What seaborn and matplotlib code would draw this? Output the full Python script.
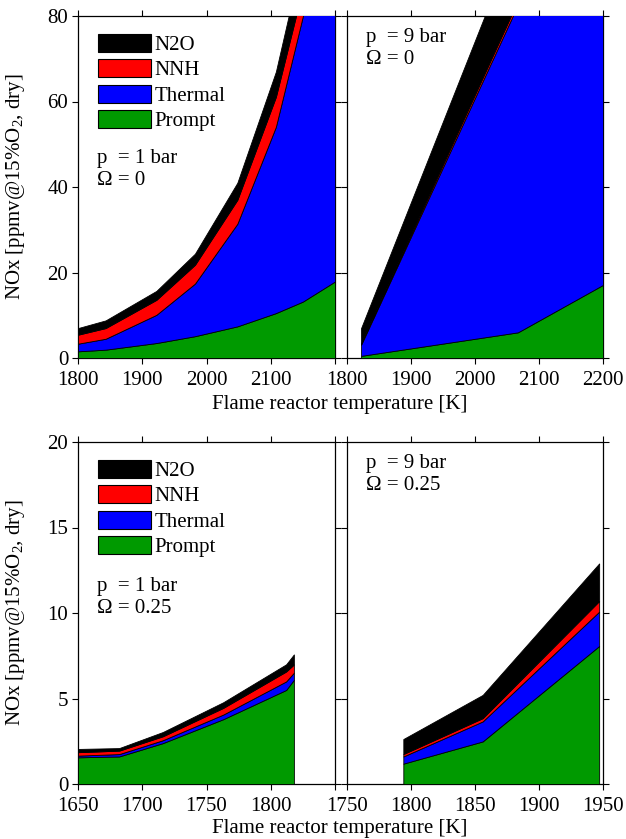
import matplotlib
matplotlib.use("Agg")
import matplotlib.pyplot as plt
from matplotlib.patches import Patch
import seaborn as sns

# ---- data: NOx formation route contributions [ppmv @ 15% O2, dry] ----
mechanisms = ["Prompt", "Thermal", "NNH", "N2O"]
mech_colors = ["#009a00", "#0000ff", "#ff0000", "#000000"]

# p = 1 bar, Omega = 0
t_1bar_0 = [1800, 1843, 1922, 1982, 2048, 2108, 2150, 2200]
prompt_1bar_0 = [1.56, 1.95, 3.5, 5.1, 7.4, 10.5, 13.2, 17.9]
thermal_1bar_0 = [1.79, 2.55, 6.6, 12.3, 24.0, 43.6, 66.8, 110.0]
nnh_1bar_0 = [2.1, 2.5, 3.5, 4.4, 5.6, 7.0, 6.5, 8.0]
n2o_1bar_0 = [1.55, 1.8, 2.1, 2.6, 4.0, 5.9, 8.0, 10.0]

# p = 9 bar, Omega = 0
t_9bar_0 = [1822, 2067, 2200]
prompt_9bar_0 = [0.5, 6.0, 17.1]
thermal_9bar_0 = [2.6, 76.6, 120.0]
nnh_9bar_0 = [0.3, 1.0, 1.5]
n2o_9bar_0 = [3.6, 16.0, 22.0]

# p = 1 bar, Omega = 0.25
t_1bar_25 = [1650, 1682, 1716, 1763, 1812, 1818]
prompt_1bar_25 = [1.56, 1.61, 2.39, 3.79, 5.5, 6.09]
thermal_1bar_25 = [0.1, 0.14, 0.17, 0.27, 0.5, 0.42]
nnh_1bar_25 = [0.2, 0.2, 0.23, 0.39, 0.58, 0.48]
n2o_1bar_25 = [0.19, 0.15, 0.25, 0.33, 0.42, 0.59]

# p = 9 bar, Omega = 0.25
t_9bar_25 = [1794, 1856, 1947]
prompt_9bar_25 = [1.19, 2.49, 8.07]
thermal_9bar_25 = [0.42, 1.17, 2.01]
nnh_9bar_25 = [0.14, 0.19, 0.62]
n2o_9bar_25 = [0.88, 1.36, 2.2]

xticks_top = [1800, 1900, 2000, 2100, 2200]
yticks_top = [0, 20, 40, 60, 80]
xticks_bottom = [1650, 1700, 1750, 1800, 1850]
xticks_bottom_right = [1750, 1800, 1850, 1900, 1950]
yticks_bottom = [0, 5, 10, 15, 20]

# ---- style ----
sns.set_theme(style="ticks")
plt.rcParams.update({
    "font.family": ["Liberation Serif", "DejaVu Serif"],
    "mathtext.fontset": "custom",
    "mathtext.rm": "Liberation Serif",
    "mathtext.it": "Liberation Serif:italic",
    "font.size": 15,
    "axes.linewidth": 0.9,
    "axes.edgecolor": "black",
    "xtick.color": "black",
    "ytick.color": "black",
    "text.color": "black",
})

W, H = 626, 839
fig = plt.figure(figsize=(W / 100, H / 100), dpi=100)


def make_axes(left, top, right, bottom):
    return fig.add_axes([left / W, 1 - bottom / H, (right - left) / W, (bottom - top) / H])


def draw_panel(ax, t, layers, xlim, ylim, xticks, yticks, drop_last_xlabel, show_ylabels, note):
    ax.stackplot(t, *layers, colors=mech_colors, edgecolor="black",
                 linewidth=0.6, zorder=3)
    ax.set_xlim(*xlim)
    ax.set_ylim(*ylim)
    ax.set_xticks(xticks)
    xlabels = [str(v) for v in xticks]
    if drop_last_xlabel:
        xlabels[-1] = ""
    ax.set_xticklabels(xlabels)
    ax.set_yticks(yticks)
    if show_ylabels:
        ax.set_yticklabels([str(v) for v in yticks])
    else:
        ax.set_yticklabels([])
    ax.tick_params(direction="out", length=4, width=0.8, top=True, right=True,
                   labelsize=15)
    ax.tick_params(axis="x", pad=5.5)
    ax.tick_params(axis="y", pad=3)
    ax.set_facecolor("white")
    ax.text(0.075, note[2], note[0] + "\n" + note[1], transform=ax.transAxes,
            fontsize=15, va="top", ha="left", linespacing=1.2, zorder=5)


def add_legend(ax):
    handles = [Patch(facecolor=c, edgecolor="black", linewidth=0.8)
               for c in mech_colors[::-1]]
    ax.legend(handles, mechanisms[::-1], loc="upper left", bbox_to_anchor=(0.045, 0.972),
              frameon=False, fontsize=15, handlelength=2.55, handleheight=0.95,
              labelspacing=0.2, handletextpad=0.15, borderaxespad=0.0)


ax1 = make_axes(78, 16, 335, 358)
draw_panel(ax1, t_1bar_0,
           [prompt_1bar_0, thermal_1bar_0, nnh_1bar_0, n2o_1bar_0],
           (1800, 2200), (0, 80), xticks_top, yticks_top, True, True,
           ("p  = 1 bar", "\u03a9 = 0", 0.61))
add_legend(ax1)

ax2 = make_axes(347, 16, 603, 358)
draw_panel(ax2, t_9bar_0,
           [prompt_9bar_0, thermal_9bar_0, nnh_9bar_0, n2o_9bar_0],
           (1800, 2200), (0, 80), xticks_top, yticks_top, False, False,
           ("p  = 9 bar", "\u03a9 = 0", 0.965))

ax3 = make_axes(78, 442, 335, 784)
draw_panel(ax3, t_1bar_25,
           [prompt_1bar_25, thermal_1bar_25, nnh_1bar_25, n2o_1bar_25],
           (1650, 1850), (0, 20), xticks_bottom, yticks_bottom, True, True,
           ("p  = 1 bar", "\u03a9 = 0.25", 0.605))
add_legend(ax3)

ax4 = make_axes(347, 442, 603, 784)
draw_panel(ax4, t_9bar_25,
           [prompt_9bar_25, thermal_9bar_25, nnh_9bar_25, n2o_9bar_25],
           (1750, 1950), (0, 20), xticks_bottom_right, yticks_bottom, False, False,
           ("p  = 9 bar", "\u03a9 = 0.25", 0.965))

ylabel = "NOx [ppmv@15%O$_2$, dry]"
xlabel = "Flame reactor temperature [K]"
fig.text(16 / W, 1 - 187 / H, ylabel, rotation=90, ha="center", va="center", fontsize=15)
fig.text(16 / W, 1 - 613 / H, ylabel, rotation=90, ha="center", va="center", fontsize=15)
fig.text(340 / W, 1 - 404 / H, xlabel, ha="center", va="center", fontsize=15)
fig.text(340 / W, 1 - 829 / H, xlabel, ha="center", va="center", fontsize=15)

fig.savefig("out.png", dpi=100, facecolor="white")
